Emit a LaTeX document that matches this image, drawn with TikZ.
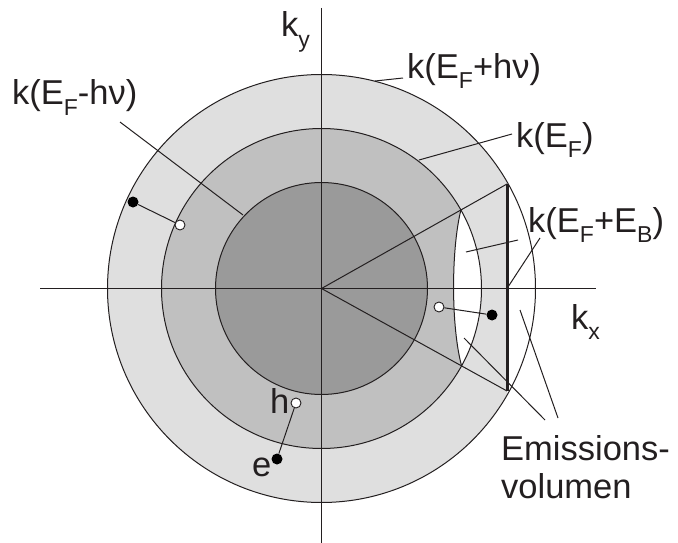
\documentclass[tikz,border=0pt]{standalone}
\usepackage{fontspec}
\setmainfont{Liberation Sans}
\definecolor{ringA}{HTML}{DFDFDF}
\definecolor{ringB}{HTML}{C0C0C0}
\definecolor{ringC}{HTML}{9A9A9A}
\definecolor{ln}{HTML}{231F20}
\newcommand\lsub[1]{\raisebox{-0.3em}{\fontsize{23pt}{23pt}\selectfont #1}}
\begin{document}
\begin{tikzpicture}[x=1pt,y=-1pt,
  thinline/.style={draw=ln,line width=1pt},
  axisline/.style={draw=ln,line width=1.2pt},
  lbl/.style={anchor=base west,inner sep=0pt,font=\fontsize{34.5pt}{38pt}\selectfont,text=ln},
  bdot/.style={circle,fill=black,minimum size=11pt,inner sep=0pt},
  wdot/.style={circle,fill=white,draw=ln,line width=0.9pt,minimum size=10pt,inner sep=0pt}]
\useasboundingbox (0,0) rectangle (678,543);
\coordinate (C) at (321.5,288.5);
\coordinate (T) at (507,184);
\coordinate (Bt) at (507,391);
\coordinate (A) at (460.9,210.0);
\coordinate (B) at (461.6,365.9);
% fills
\begin{scope}
  \clip (0,0) rectangle (507,543);
  \fill[ringA] (C) circle[radius=214pt];
\end{scope}
\fill[ringB] (C) circle[radius=160pt];
\fill[ringC] (C) circle[radius=106pt];
\begin{scope}
  \clip (C) circle[radius=160pt];
  \fill[white] (A) .. controls (451,250) and (451,327) .. (B) -- (520,400) -- (520,180) -- cycle;
\end{scope}
% outlines
\draw[thinline] (C) circle[radius=214pt];
\draw[thinline] (C) circle[radius=160pt];
\draw[thinline] (C) circle[radius=106pt];
\draw[thinline] (A) .. controls (451,250) and (451,327) .. (B);
% axes
\coordinate (xl) at (40,288.5);
\coordinate (xr) at (596,288.5);
\coordinate (yt) at (321.5,8);
\coordinate (yb) at (321.5,543);
\draw[axisline] (xl) -- (xr);
\draw[axisline] (yt) -- (yb);
% cone
\draw[thinline] (C) -- (T);
\draw[thinline] (C) -- (Bt);
\draw[draw=ln,line width=3pt] (T) -- (Bt);
% labels
\node[lbl] (ky) at (281,37) {k\lsub{y}};
\node[lbl] (kx) at (571,329) {k\lsub{x}};
\node[lbl] (lhv) at (407,78) {k(E\lsub{F}+hν)};
\node[lbl] (lef) at (516,147) {k(E\lsub{F})};
\node[lbl] (leb) at (528,232) {k(E\lsub{F}+E\lsub{B})};
\node[lbl] (lmh) at (12,105) {k(E\lsub{F}-hν)};
\node[lbl] (lh) at (270,413) {h};
\node[lbl] (le) at (252,476) {e};
\node[lbl] (lem1) at (501,460) {Emissions-};
\node[lbl] (lem2) at (501,498) {volumen};
% leader lines
\coordinate (p1a) at (375,81);  \coordinate (p1b) at (403,78);
\coordinate (p2a) at (419,160); \coordinate (p2b) at (512,134);
\coordinate (p3a) at (120,122); \coordinate (p3b) at (243,215);
\coordinate (p4a) at (466,252); \coordinate (p4b) at (518,240);
\coordinate (p5a) at (507,288.5); \coordinate (p5b) at (540,238);
\coordinate (p6a) at (464,338); \coordinate (p6b) at (545,420);
\coordinate (p7a) at (520,310); \coordinate (p7b) at (558,418);
\draw[thinline] (p1a) -- (p1b);
\draw[thinline] (p2a) -- (p2b);
\draw[thinline] (p3a) -- (p3b);
\draw[thinline] (p4a) -- (p4b);
\draw[thinline] (p5a) -- (p5b);
\draw[thinline] (p6a) -- (p6b);
\draw[thinline] (p7a) -- (p7b);
% electron-hole pairs
\node[bdot] (e1) at (133,202) {};
\node[wdot] (h1) at (180,225) {};
\node[wdot] (h2) at (439,307) {};
\node[bdot] (e2) at (492,315) {};
\node[wdot] (h3) at (296,403) {};
\node[bdot] (e3) at (277,459) {};
\draw[thinline] (e1) -- (h1);
\draw[thinline] (h2) -- (e2);
\draw[thinline] (h3) -- (e3);
\end{tikzpicture}
\end{document}
